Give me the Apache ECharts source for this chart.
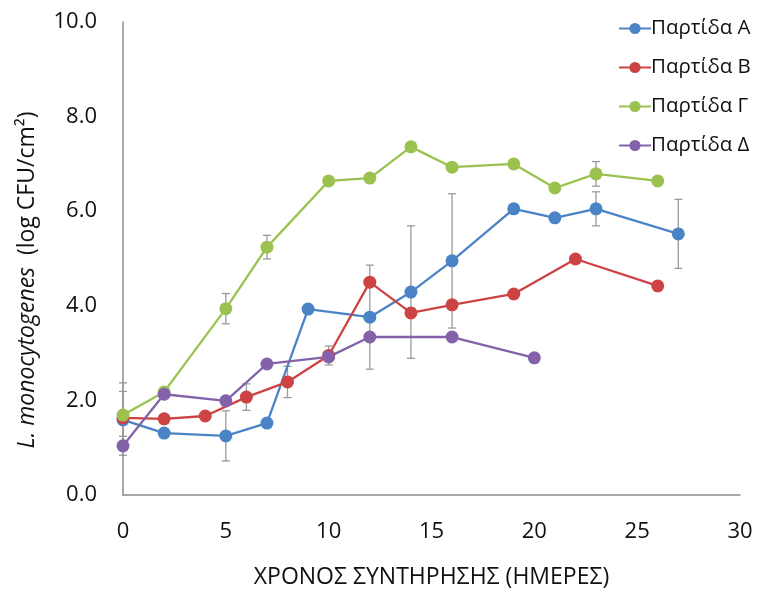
<!DOCTYPE html>
<html>
<head>
<meta charset="utf-8">
<script src="https://cdn.jsdelivr.net/npm/echarts@6/dist/echarts.min.js"></script>
<style>
  html, body { margin: 0; padding: 0; background: #fff; }
  #chart { width: 758px; height: 600px; }
</style>
</head>
<body>
<div id="chart"></div>
<script>
// Storage time (days) and L. monocytogenes counts (log CFU/cm²) per batch
const seriesNames = ['Παρτίδα Α', 'Παρτίδα Β', 'Παρτίδα Γ', 'Παρτίδα Δ'];

const daysA = [0, 2, 5, 7, 9, 12, 14, 16, 19, 21, 23, 27];
const valsA = [1.59, 1.31, 1.25, 1.52, 3.93, 3.76, 4.29, 4.95, 6.05, 5.86, 6.05, 5.52];
const errA  = [0.6, null, 0.53, null, null, 1.1, 1.4, 1.42, null, null, 0.36, 0.73];

const daysB = [0, 2, 4, 6, 8, 10, 12, 14, 16, 19, 22, 26];
const valsB = [1.63, 1.61, 1.67, 2.07, 2.39, 2.95, 4.50, 3.85, 4.02, 4.25, 4.99, 4.42];
const errB  = [null, null, null, 0.28, 0.33, 0.2, null, null, null, null, null, null];

const daysG = [0, 2, 5, 7, 10, 12, 14, 16, 19, 21, 23, 26];
const valsG = [1.69, 2.18, 3.94, 5.24, 6.64, 6.70, 7.36, 6.93, 7.00, 6.49, 6.79, 6.64];
const errG  = [0.68, null, 0.32, 0.25, null, null, null, null, null, null, 0.26, 0.08];

const daysD = [0, 2, 5, 7, 10, 12, 16, 20];
const valsD = [1.04, 2.13, 1.99, 2.77, 2.92, 3.34, 3.34, 2.90];
const errD  = [0.2, null, null, null, null, null, null, null];

const xTicks = [0, 5, 10, 15, 20, 25, 30];
const yTicks = [0, 2, 4, 6, 8, 10];

const colors = ['#4a84c6', '#cd4343', '#9bc24f', '#8462aa'];
const FONT = '"Open Sans", Lato, sans-serif';

const groups = [
  [daysA, valsA, errA],
  [daysB, valsB, errB],
  [daysG, valsG, errG],
  [daysD, valsD, errD]
];

function pairs(days, vals) {
  return days.map((d, i) => [d, vals[i]]);
}
function errTriples(days, vals, errs) {
  const out = [];
  days.forEach((d, i) => { if (errs[i] != null) out.push([d, vals[i], errs[i]]); });
  return out;
}

// vertical error bar with caps
function renderErr(params, api) {
  const x = api.value(0), y = api.value(1), e = api.value(2);
  const top = api.coord([x, y + e]);
  const bot = api.coord([x, y - e]);
  const cw = 4;
  const st = { stroke: '#9a9a9a', lineWidth: 1.3 };
  return {
    type: 'group',
    children: [
      { type: 'line', shape: { x1: top[0], y1: top[1], x2: bot[0], y2: bot[1] }, style: st },
      { type: 'line', shape: { x1: top[0] - cw, y1: top[1], x2: top[0] + cw, y2: top[1] }, style: st },
      { type: 'line', shape: { x1: bot[0] - cw, y1: bot[1], x2: bot[0] + cw, y2: bot[1] }, style: st }
    ]
  };
}

const series = [];
groups.forEach((g, k) => {
  series.push({
    name: seriesNames[k],
    type: 'line',
    data: pairs(g[0], g[1]),
    symbol: 'circle',
    symbolSize: 13,
    z: 3,
    lineStyle: { width: 2.3, color: colors[k] },
    itemStyle: { color: colors[k] },
    emphasis: { disabled: true },
    animation: false
  });
  series.push({
    name: seriesNames[k] + ' err',
    type: 'custom',
    data: errTriples(g[0], g[1], g[2]),
    renderItem: renderErr,
    z: 2,
    silent: true,
    animation: false
  });
});

const chart = echarts.init(document.getElementById('chart'));
chart.setOption({
  animation: false,
  color: colors,
  grid: { left: 123, right: 18, top: 22, bottom: 105, containLabel: false },
  legend: {
    data: seriesNames,
    orient: 'vertical',
    left: 613,
    top: 13,
    itemWidth: 32,
    itemHeight: 14,
    itemGap: 18,
    textStyle: { fontFamily: FONT, fontSize: 20.5, color: '#111', padding: [0, 0, 0, -5] }
  },
  xAxis: {
    type: 'value',
    min: xTicks[0],
    max: xTicks[xTicks.length - 1],
    interval: 5,
    splitLine: { show: false },
    axisTick: { show: false },
    axisLine: { lineStyle: { color: '#8c8c8c', width: 1.5 } },
    axisLabel: { fontFamily: FONT, fontSize: 22, color: '#111', margin: 26 },
    name: 'ΧΡΟΝΟΣ ΣΥΝΤΗΡΗΣΗΣ (ΗΜΕΡΕΣ)',
    nameLocation: 'middle',
    nameGap: 71,
    nameTextStyle: { fontFamily: FONT, fontSize: 23, color: '#111' }
  },
  yAxis: {
    type: 'value',
    min: yTicks[0],
    max: yTicks[yTicks.length - 1],
    interval: 2,
    splitLine: { show: false },
    axisTick: { show: false },
    axisLine: { show: true, lineStyle: { color: '#8c8c8c', width: 1.5 } },
    axisLabel: {
      fontFamily: FONT, fontSize: 22, color: '#111', margin: 26,
      formatter: v => v.toFixed(1)
    }
  },
  graphic: [{
    type: 'text',
    x: 27,
    y: 280,
    rotation: Math.PI / 2,
    style: {
      text: '{i|L. monocytogenes}  (log CFU/cm²)',
      align: 'center',
      verticalAlign: 'middle',
      fontFamily: FONT,
      fontSize: 23,
      fill: '#111',
      rich: {
        i: { fontFamily: FONT, fontSize: 23, fontStyle: 'italic', fill: '#111' }
      }
    }
  }],
  series: series
});
</script>
</body>
</html>
